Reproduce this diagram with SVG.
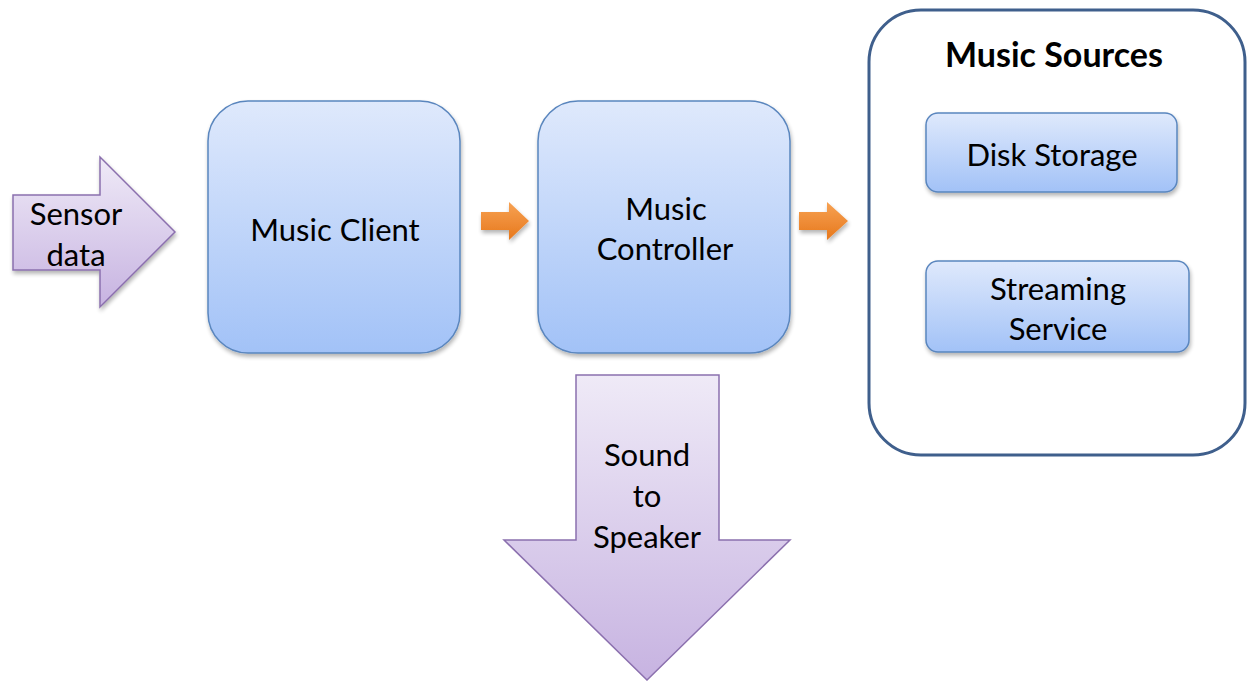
<svg xmlns="http://www.w3.org/2000/svg" width="1247" height="681" viewBox="0 0 1247 681">
<defs>
<linearGradient id="gBlue" x1="0" y1="0" x2="0" y2="1">
<stop offset="0" stop-color="#dfe9fc"/>
<stop offset="1" stop-color="#a2c2f7"/>
</linearGradient>
<linearGradient id="gPurple" x1="0" y1="0" x2="0" y2="1">
<stop offset="0" stop-color="#efeaf7"/>
<stop offset="1" stop-color="#c7b3e1"/>
</linearGradient>
<linearGradient id="gOrange" x1="0" y1="0" x2="0" y2="1">
<stop offset="0" stop-color="#f7a253"/>
<stop offset="1" stop-color="#e7781c"/>
</linearGradient>
<filter id="sh" x="-10%" y="-10%" width="130%" height="130%">
<feGaussianBlur in="SourceAlpha" stdDeviation="2"/>
<feOffset dx="1" dy="3" result="b"/>
<feComponentTransfer><feFuncA type="linear" slope="0.3"/></feComponentTransfer>
<feMerge><feMergeNode/><feMergeNode in="SourceGraphic"/></feMerge>
</filter>
</defs>
<style>
.box{fill:url(#gBlue);stroke:#5a86be;stroke-width:1.5}
.parr{fill:url(#gPurple);stroke:#8b70ae;stroke-width:1.5}
.oarr{fill:url(#gOrange);stroke:none}
.cont{fill:#ffffff;stroke:#3f5f8c;stroke-width:3}
text{font-family:Lato,"Open Sans","Liberation Sans",sans-serif;font-size:31px;fill:#000;text-anchor:middle;dominant-baseline:central}
.title{font-weight:bold;font-size:34px}
</style>
<rect width="1247" height="681" fill="#ffffff"/>
<g id="sensor-data">
<path class="parr" d="M13,195 L100,195 L100,157 L175,232 L100,307 L100,270 L13,270 Z" filter="url(#sh)"/>
<text x="76" y="213">Sensor</text>
<text x="76" y="254">data</text>
</g>
<g id="music-client">
<rect class="box" x="208" y="101" width="252" height="252" rx="40" filter="url(#sh)"/>
<text x="335" y="229">Music Client</text>
</g>
<g id="music-controller">
<rect class="box" x="538" y="101" width="252" height="252" rx="40" filter="url(#sh)"/>
<text x="666" y="208">Music</text>
<text x="665" y="248">Controller</text>
</g>
<g id="music-sources">
<rect class="cont" x="869" y="10" width="376" height="445" rx="52"/>
<text class="title" x="1054" y="53">Music Sources</text>
</g>
<g id="disk-storage">
<rect class="box" x="926" y="113" width="251" height="79" rx="12" filter="url(#sh)"/>
<text x="1052" y="154">Disk Storage</text>
</g>
<g id="streaming-service">
<rect class="box" x="926" y="261" width="263" height="91" rx="12" filter="url(#sh)"/>
<text x="1058" y="288">Streaming</text>
<text x="1058" y="328">Service</text>
</g>
<g id="sound-to-speaker">
<path class="parr" d="M576,375 L719,375 L719,540 L790,540 L647,680 L504,540 L576,540 Z"/>
<text x="647" y="454">Sound</text>
<text x="647" y="495">to</text>
<text x="647" y="536">Speaker</text>
</g>
<g id="connectors">
<path class="oarr" d="M481,212 L509,212 L509,202 L529,221 L509,240 L509,230 L481,230 Z" filter="url(#sh)"/>
<path class="oarr" d="M799,212 L827,212 L827,202 L848,221 L827,240 L827,230 L799,230 Z" filter="url(#sh)"/>
</g>
</svg>
